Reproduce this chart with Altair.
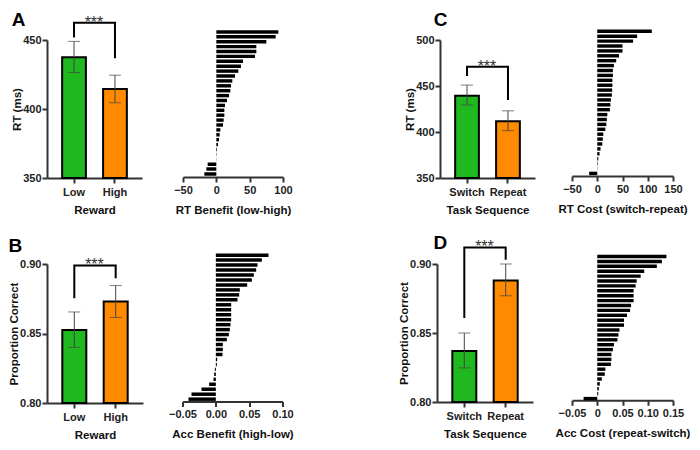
import altair as alt
import pandas as pd

FONT = "Liberation Sans"
GREEN = "#1fb81f"
ORANGE = "#ff8a00"
AX = "#333333"

# ---------------- data ----------------
reward_levels = ["Low", "High"]
seq_levels = ["Switch", "Repeat"]

# Panel A: RT by reward
rt_reward_mean = [437.5, 414.5]
rt_reward_lo = [426.5, 404.5]
rt_reward_hi = [449.0, 424.5]
rt_reward_bracket = [452.6, 462.5, 462.5, 437.5]

# Panel B: accuracy by reward
acc_reward_mean = [0.8525, 0.873]
acc_reward_lo = [0.840, 0.8615]
acc_reward_hi = [0.8655, 0.8845]
acc_reward_bracket = [0.876, 0.899, 0.899, 0.8905]

# Panel C: RT by task sequence
rt_seq_mean = [439.3, 411.6]
rt_seq_lo = [429.4, 401.5]
rt_seq_hi = [451.0, 423.0]
rt_seq_bracket = [462.0, 471.0, 471.0, 436.0]

# Panel D: accuracy by task sequence
acc_seq_mean = [0.837, 0.888]
acc_seq_lo = [0.8247, 0.877]
acc_seq_hi = [0.850, 0.900]
acc_seq_bracket = [0.8616, 0.912, 0.912, 0.9038]

# individual participant effects (sorted, top to bottom)
rt_benefit = [93, 89, 75, 60, 60, 58, 40, 37, 33, 28, 24, 22, 21, 19, 16, 13, 12, 12, 11, 10,
              6, 5, 4, 2.5, 1, 0.5, 0.3, -13, -15, -18]
acc_benefit = [0.079, 0.069, 0.0625, 0.0605, 0.057, 0.054, 0.047, 0.036, 0.035, 0.0325,
               0.023, 0.023, 0.023, 0.023, 0.022, 0.021, 0.0195, 0.0165, 0.0105, 0.0105,
               0.010, 0.002, 0.0015, -0.0015, -0.0025, -0.0035, -0.010, -0.0215, -0.0365, -0.041]
rt_cost = [108, 79, 71, 50, 50, 43, 37.5, 33, 31, 31, 30, 30, 29.5, 29, 27, 26, 25, 20, 19, 18,
           16, 12, 11, 10, 6.5, 4.5, 2, 1, 0.5, -16]
acc_cost = [0.137, 0.128, 0.118, 0.093, 0.086, 0.078, 0.076, 0.072, 0.072, 0.072,
            0.067, 0.065, 0.059, 0.053, 0.053, 0.044, 0.042, 0.040, 0.033, 0.031,
            0.028, 0.028, 0.027, 0.016, 0.015, 0.009, 0.005, 0.003, 0.002, -0.027]

LABEL_FS = 11
TITLE_FS = 11.5


def bar_panel(cats, means, lo, hi, bracket, ydomain, yticks, ytitle, xtitle, letter,
              letter_dx, letter_offset, width, height, yfmt):
    df = pd.DataFrame({"cat": cats, "mean": means, "lo": lo, "hi": hi})
    br = pd.DataFrame({"cat": [cats[0], cats[0], cats[1], cats[1]], "v": bracket,
                       "o": [0, 1, 2, 3]})
    st = pd.DataFrame({"cat": [cats[0]], "v": [bracket[1]]})
    xs = alt.Scale(domain=cats, paddingInner=0.42, paddingOuter=0.37)
    xax = alt.Axis(title=xtitle, labelAngle=0, tickSize=5, labelPadding=3, titlePadding=7)
    ys = alt.Scale(domain=ydomain, nice=False, zero=False)
    yax = alt.Axis(values=yticks, title=ytitle, format=yfmt, tickSize=5, labelPadding=1,
                   titlePadding=0)
    base = alt.Chart(df)
    bars = base.mark_bar(stroke="black", strokeWidth=2).encode(
        x=alt.X("cat:N", scale=xs, axis=xax, sort=cats),
        y=alt.Y("mean:Q", scale=ys, axis=yax),
        y2=alt.datum(ydomain[0]),
        color=alt.Color("cat:N", scale=alt.Scale(domain=cats, range=[GREEN, ORANGE]),
                        legend=None),
    )
    err = base.mark_rule(color="#444", strokeWidth=1).encode(
        x=alt.X("cat:N", sort=cats), y="lo:Q", y2="hi:Q")
    cap_lo = base.mark_tick(color="#444", thickness=1, size=12, orient="horizontal").encode(
        x=alt.X("cat:N", sort=cats), y="lo:Q")
    cap_hi = base.mark_tick(color="#444", thickness=1, size=12, orient="horizontal").encode(
        x=alt.X("cat:N", sort=cats), y="hi:Q")
    brk = alt.Chart(br).mark_line(color="black", strokeWidth=2, strokeJoin="miter",
                                  strokeCap="square").encode(
        x=alt.X("cat:N", sort=cats), y="v:Q", order="o:Q")
    stars = alt.Chart(st).mark_text(text="***", fontSize=16, font=FONT, color="#333",
                                    baseline="alphabetic", dx=width * 0.21, dy=5).encode(
        x=alt.X("cat:N", sort=cats), y="v:Q")
    return alt.layer(bars, err, cap_lo, cap_hi, brk, stars).properties(
        width=width, height=height,
        title=alt.TitleParams(letter, anchor="start", frame="bounds", fontSize=19,
                              fontWeight="bold", font=FONT, color="black",
                              dx=letter_dx, offset=letter_offset))


def hbar_panel(values, xdomain, xticks, xtitle, width, height, band_range, label_expr):
    n = len(values)
    df = pd.DataFrame({"idx": [f"{i:02d}" for i in range(n)], "v": values})
    return alt.Chart(df).mark_bar(color="black").encode(
        x=alt.X("v:Q", scale=alt.Scale(domain=xdomain, nice=False, zero=True),
                axis=alt.Axis(values=xticks, title=xtitle, labelExpr=label_expr,
                              labelOverlap=False, labelFlush=False,
                              tickSize=5, labelPadding=2, titlePadding=9)),
        y=alt.Y("idx:O", sort=None, axis=None,
                scale=alt.Scale(paddingInner=0.3, paddingOuter=0, range=band_range)),
    ).properties(width=width, height=height)


barA = bar_panel(reward_levels, rt_reward_mean, rt_reward_lo, rt_reward_hi, rt_reward_bracket,
                 [350, 450], [350, 400, 450], "RT (ms)", "Reward", "A", 0, -15.5, 95, 138, "d")
hbarA = hbar_panel(rt_benefit, [-50, 100], [-50, 0, 50, 100], "RT Benefit (low-high)",
                   100, 137, [-9.8, 135.7], "format(datum.value, 'd')")
barC = bar_panel(seq_levels, rt_seq_mean, rt_seq_lo, rt_seq_hi, rt_seq_bracket,
                 [350, 500], [350, 400, 450, 500], "RT (ms)", "Task Sequence", "C", 29, 4.5,
                 95, 138, "d")
hbarC = hbar_panel(rt_cost, [-50, 150], [-50, 0, 50, 100, 150], "RT Cost (switch-repeat)",
                   101, 136, [-10.4, 135.1], "format(datum.value, 'd')")

barB = bar_panel(reward_levels, acc_reward_mean, acc_reward_lo, acc_reward_hi,
                 acc_reward_bracket, [0.80, 0.90], [0.80, 0.85, 0.90], "Proportion Correct",
                 "Reward", "B", 0, 1, 96, 139, ".2f")
hbarB = hbar_panel(acc_benefit, [-0.05, 0.10], [-0.05, 0.0, 0.05, 0.10],
                   "Acc Benefit (high-low)", 100, 137.5, [-10.6, 136.9],
                   "format(datum.value, '.2f')")
barD = bar_panel(seq_levels, acc_seq_mean, acc_seq_lo, acc_seq_hi, acc_seq_bracket,
                 [0.80, 0.90], [0.80, 0.85, 0.90], "Proportion Correct", "Task Sequence",
                 "D", 35, -14, 96, 138, ".2f")
hbarD = hbar_panel(acc_cost, [-0.05, 0.15], [-0.05, 0.0, 0.05, 0.10, 0.15],
                   "Acc Cost (repeat-switch)", 101, 136.3, [-9.2, 136.3],
                   "datum.value == 0 ? '0' : format(datum.value, '.2f')")

row1 = alt.hconcat(alt.hconcat(barA, hbarA, spacing=31),
                   alt.hconcat(barC, hbarC, spacing=22), spacing=111)
row2 = alt.hconcat(alt.hconcat(barB, hbarB, spacing=25.5),
                   alt.hconcat(barD, hbarD, spacing=22), spacing=104)

chart = alt.vconcat(row1, row2, spacing=18).properties(
    padding={"top": 2, "left": 0, "right": 0, "bottom": 0}
).configure_view(
    stroke=None
).configure_axis(
    domainColor=AX, domainWidth=2, tickColor=AX, tickWidth=2, grid=False,
    labelFont=FONT, labelFontSize=LABEL_FS, labelFontWeight="bold", labelColor="#222",
    titleFont=FONT, titleFontSize=TITLE_FS, titleFontWeight="bold", titleColor="#111",
).configure_title(font=FONT)

chart.save("out.html", embed_options={"renderer": "svg", "actions": False})
